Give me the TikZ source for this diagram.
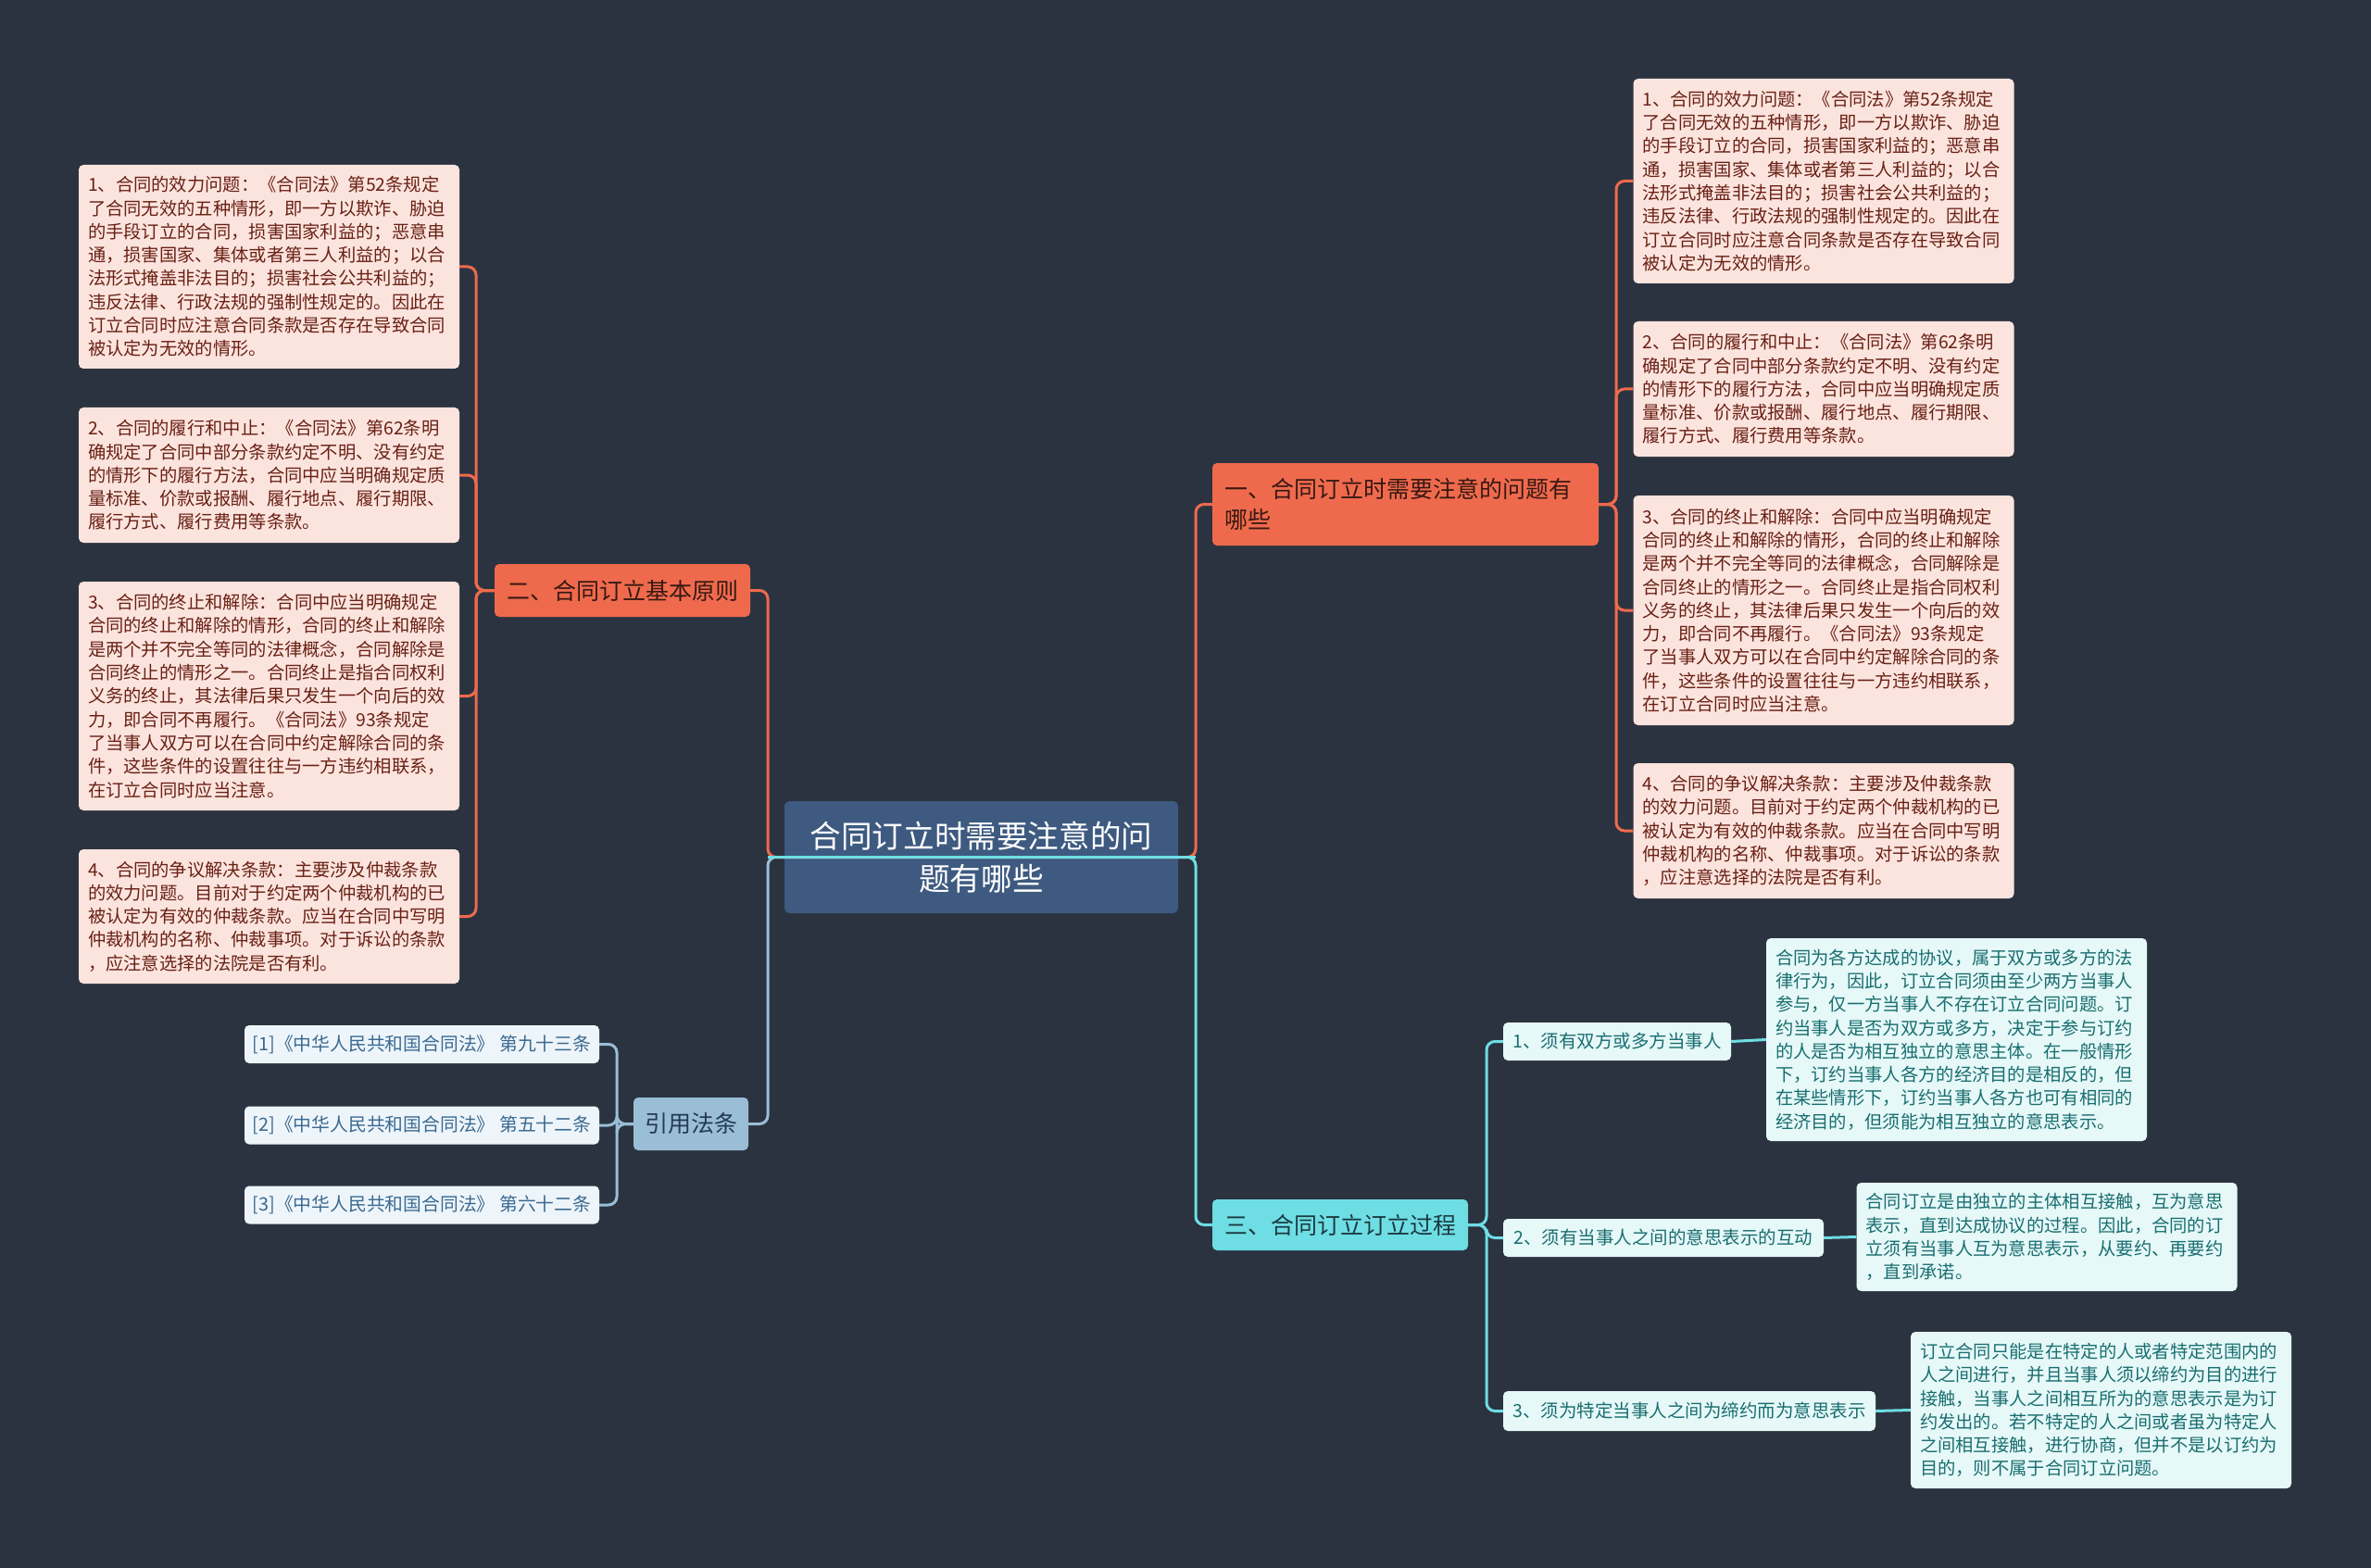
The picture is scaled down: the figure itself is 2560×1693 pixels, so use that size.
\documentclass[tikz,border=0pt]{standalone}
\usepackage{fontspec}
\setmainfont{Noto Sans CJK SC}
\definecolor{bg}{RGB}{43,51,64}
\definecolor{orangefill}{RGB}{239,106,77}
\definecolor{orangetext}{RGB}{55,25,18}
\definecolor{pinkfill}{RGB}{252,228,222}
\definecolor{pinktext}{RGB}{105,32,20}
\definecolor{centerfill}{RGB}{62,90,128}
\definecolor{lawfill}{RGB}{155,190,215}
\definecolor{lawtext}{RGB}{35,58,82}
\definecolor{lawchildfill}{RGB}{238,245,250}
\definecolor{lawchildtext}{RGB}{58,105,145}
\definecolor{cyanfill}{RGB}{110,222,228}
\definecolor{cyantext}{RGB}{28,58,64}
\definecolor{lightcyan}{RGB}{230,248,248}
\definecolor{tealtext}{RGB}{25,110,112}
\begin{document}
\begin{tikzpicture}[x=1pt,y=-1pt,
  box/.style={rounded corners=5pt, inner sep=0pt, anchor=center},
  detail/.style={box, font=\fontsize{19.3}{25.3}\selectfont, text width=391pt, inner xsep=10pt, align=left},
  pinkbox/.style={detail, fill=pinkfill, text=pinktext},
  cyanbox/.style={detail, fill=lightcyan, text=tealtext},
  orangebox/.style={box, fill=orangefill, text=orangetext, font=\fontsize{25}{32.7}\selectfont},
  lawchild/.style={box, fill=lawchildfill, text=lawchildtext, font=\fontsize{19.8}{24}\selectfont, minimum width=383pt, minimum height=41pt},
  clabel/.style={box, fill=lightcyan, text=tealtext, font=\fontsize{19.5}{24}\selectfont, minimum height=41pt},
  conn/.style={line width=3pt, rounded corners=9pt},
  oline/.style={conn, draw=orangefill},
  bline/.style={conn, draw=lawfill},
  cline/.style={conn, draw=cyanfill}
]
\fill[bg] (0,0) rectangle (2560,1693);
\useasboundingbox (0,0) rectangle (2560,1693);

% trunk coordinates
\coordinate (tL) at (829,0);
\coordinate (tR) at (1291,0);
\coordinate (tB1) at (1745,0);
\coordinate (tB2) at (514,0);
\coordinate (tB3) at (666,0);
\coordinate (tB4) at (1605,0);

% center
\node[box, rounded corners=6pt, fill=centerfill, text=white, minimum width=425pt, minimum height=121pt,
  font=\fontsize{33.6}{45.7}\selectfont, align=center] (center) at (1059.5,925.5) {合同订立时需要注意的问\\题有哪些};

% main branches
\node[orangebox, text width=391pt, inner xsep=13pt, minimum height=89pt, align=left] (b1) at (1517.5,544.5) {一、合同订立时需要注意的问题有\\哪些};
\node[orangebox, minimum width=276pt, minimum height=57pt] (b2) at (672,637.5) {二、合同订立基本原则};
\node[box, fill=lawfill, text=lawtext, font=\fontsize{25}{30}\selectfont, minimum width=124pt, minimum height=57pt] (b3) at (746,1213.5) {引用法条};
\node[box, fill=cyanfill, text=cyantext, font=\fontsize{25}{30}\selectfont, minimum width=276pt, minimum height=55pt] (b4) at (1447,1322.5) {三、合同订立订立过程};

% connectors center -> branches
\draw[oline] (center.center) -- (center.center -| tR) |- (b1.west);
\draw[oline] (center.center) -- (center.center -| tL) |- (b2.east);
\draw[bline] (center.center) -- (center.center -| tL) |- (b3.east);
\draw[cline] (center.center) -- (center.center -| tR) |- (b4.west);
\draw[cline] (center.center -| tL) -- (center.center -| tR);

% right pink details
\node[pinkbox, minimum height=221pt] (R1) at (1969,195.5) {1、合同的效力问题：《合同法》第52条规定\\了合同无效的五种情形，即一方以欺诈、胁迫\\的手段订立的合同，损害国家利益的；恶意串\\通，损害国家、集体或者第三人利益的；以合\\法形式掩盖非法目的；损害社会公共利益的；\\违反法律、行政法规的强制性规定的。因此在\\订立合同时应注意合同条款是否存在导致合同\\被认定为无效的情形。};
\node[pinkbox, minimum height=146pt] (R2) at (1969,420) {2、合同的履行和中止：《合同法》第62条明\\确规定了合同中部分条款约定不明、没有约定\\的情形下的履行方法，合同中应当明确规定质\\量标准、价款或报酬、履行地点、履行期限、\\履行方式、履行费用等条款。};
\node[pinkbox, minimum height=248pt] (R3) at (1969,659) {3、合同的终止和解除：合同中应当明确规定\\合同的终止和解除的情形，合同的终止和解除\\是两个并不完全等同的法律概念，合同解除是\\合同终止的情形之一。合同终止是指合同权利\\义务的终止，其法律后果只发生一个向后的效\\力，即合同不再履行。《合同法》93条规定\\了当事人双方可以在合同中约定解除合同的条\\件，这些条件的设置往往与一方违约相联系，\\在订立合同时应当注意。};
\node[pinkbox, minimum height=146pt] (R4) at (1969,897) {4、合同的争议解决条款：主要涉及仲裁条款\\的效力问题。目前对于约定两个仲裁机构的已\\被认定为有效的仲裁条款。应当在合同中写明\\仲裁机构的名称、仲裁事项。对于诉讼的条款\\，应注意选择的法院是否有利。};

% left pink details
\node[pinkbox, minimum height=220pt] (L1) at (290.5,288) {1、合同的效力问题：《合同法》第52条规定\\了合同无效的五种情形，即一方以欺诈、胁迫\\的手段订立的合同，损害国家利益的；恶意串\\通，损害国家、集体或者第三人利益的；以合\\法形式掩盖非法目的；损害社会公共利益的；\\违反法律、行政法规的强制性规定的。因此在\\订立合同时应注意合同条款是否存在导致合同\\被认定为无效的情形。};
\node[pinkbox, minimum height=146pt] (L2) at (290.5,513) {2、合同的履行和中止：《合同法》第62条明\\确规定了合同中部分条款约定不明、没有约定\\的情形下的履行方法，合同中应当明确规定质\\量标准、价款或报酬、履行地点、履行期限、\\履行方式、履行费用等条款。};
\node[pinkbox, minimum height=247pt] (L3) at (290.5,751.5) {3、合同的终止和解除：合同中应当明确规定\\合同的终止和解除的情形，合同的终止和解除\\是两个并不完全等同的法律概念，合同解除是\\合同终止的情形之一。合同终止是指合同权利\\义务的终止，其法律后果只发生一个向后的效\\力，即合同不再履行。《合同法》93条规定\\了当事人双方可以在合同中约定解除合同的条\\件，这些条件的设置往往与一方违约相联系，\\在订立合同时应当注意。};
\node[pinkbox, minimum height=145pt] (L4) at (290.5,989.5) {4、合同的争议解决条款：主要涉及仲裁条款\\的效力问题。目前对于约定两个仲裁机构的已\\被认定为有效的仲裁条款。应当在合同中写明\\仲裁机构的名称、仲裁事项。对于诉讼的条款\\，应注意选择的法院是否有利。};

% law children
\node[lawchild] (law1) at (455.5,1127.5) {[1]《中华人民共和国合同法》 第九十三条};
\node[lawchild] (law2) at (455.5,1215) {[2]《中华人民共和国合同法》 第五十二条};
\node[lawchild] (law3) at (455.5,1301) {[3]《中华人民共和国合同法》 第六十二条};

% process labels and details
\node[clabel, minimum width=246pt] (c1) at (1746,1124.5) {1、须有双方或多方当事人};
\node[clabel, minimum width=346pt] (c2) at (1796,1336.5) {2、须有当事人之间的意思表示的互动};
\node[clabel, minimum width=402pt, minimum height=43pt] (c3) at (1824,1523.5) {3、须为特定当事人之间为缔约而为意思表示};

\node[cyanbox, minimum height=219pt] (c1d) at (2112.5,1122.5) {合同为各方达成的协议，属于双方或多方的法\\律行为，因此，订立合同须由至少两方当事人\\参与，仅一方当事人不存在订立合同问题。订\\约当事人是否为双方或多方，决定于参与订约\\的人是否为相互独立的意思主体。在一般情形\\下，订约当事人各方的经济目的是相反的，但\\在某些情形下，订约当事人各方也可有相同的\\经济目的，但须能为相互独立的意思表示。};
\node[cyanbox, minimum height=117pt] (c2d) at (2210,1335.5) {合同订立是由独立的主体相互接触，互为意思\\表示，直到达成协议的过程。因此，合同的订\\立须有当事人互为意思表示，从要约、再要约\\，直到承诺。};
\node[cyanbox, minimum height=169pt] (c3d) at (2268.5,1522.5) {订立合同只能是在特定的人或者特定范围内的\\人之间进行，并且当事人须以缔约为目的进行\\接触，当事人之间相互所为的意思表示是为订\\约发出的。若不特定的人之间或者虽为特定人\\之间相互接触，进行协商，但并不是以订约为\\目的，则不属于合同订立问题。};

% child connectors
\foreach \n in {R1,R2,R3,R4}
  \draw[oline] (b1.east) -- (b1.east -| tB1) |- (\n.west);
\foreach \n in {L1,L2,L3,L4}
  \draw[oline] (b2.west) -- (b2.west -| tB2) |- (\n.east);
\foreach \n in {law1,law2,law3}
  \draw[bline] (b3.west) -- (b3.west -| tB3) |- (\n.east);
\foreach \n in {c1,c2,c3}
  \draw[cline] (b4.east) -- (b4.east -| tB4) |- (\n.west);
\draw[cline] (c1.east) -- (c1d.west);
\draw[cline] (c2.east) -- (c2d.west);
\draw[cline] (c3.east) -- (c3d.west);
\end{tikzpicture}
\end{document}
